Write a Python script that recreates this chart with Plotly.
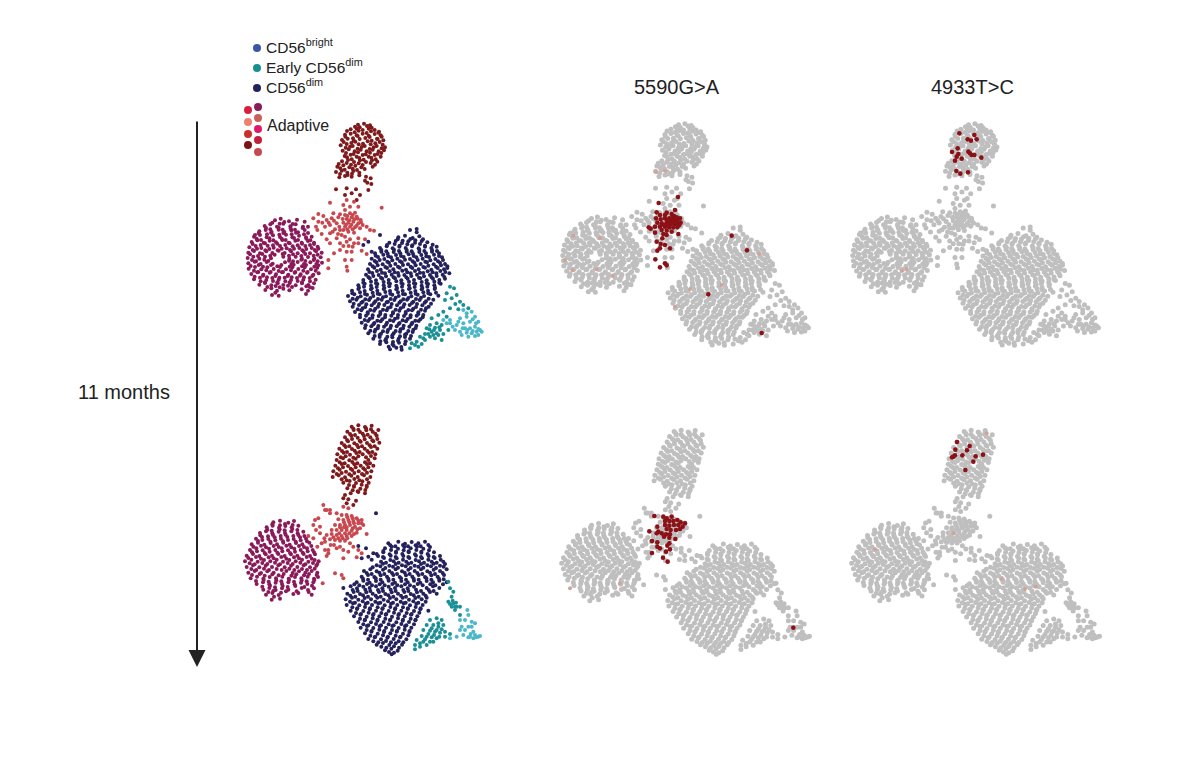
"""
NK cell UMAPs at two time points, clusters plus two mtDNA variants.
The dot positions are read by eye off the picture, in crop units, and are a
thinner sample than the real figure, which has a couple of thousand cells.
"""

import plotly.graph_objects as go

# first time point, cluster dots
adaptive_dark_1 = [(384,284),(402,281),(420,286),(362,298),(380,296),(398,300),(416,296),(434,300),(447,305),(345,314),(362,311),(380,316),(398,311),(416,317),(434,312),(452,316),(336,330),(353,326),(371,332),(389,327),(425,332),(443,327),(460,331),(332,346),(350,342),(368,348),(386,343),(404,348),(422,343),(440,348),(458,344),(465,352),(338,362),(356,358),(374,364),(392,359),(410,364),(428,359),(446,364),(462,361),(344,378),(362,374),(380,380),(398,375),(416,380),(434,375),(452,380),(336,394),(354,390),(372,396),(390,391),(408,396),(426,391),(442,395),(322,410),(340,406),(358,412),(376,407),(394,412),(428,410),(318,426),(335,422),(352,428),(370,423),(388,428),(408,440),(422,445),(328,442),(345,438),(365,440),(412,458),(424,462),(405,452),(318,478),(350,475),(378,478),(390,495),(365,490),(345,495),(415,480),(380,510)]
adaptive_dark_1b = [(375,290),(389,292),(411,288),(425,293),(351,303),(374,307),(386,302),(410,309),(423,304),(445,308),(346,320),(369,325),(383,318),(406,324),(419,321),(441,326),(455,320),(341,336),(364,339),(376,335),(399,341),(413,334),(436,340),(449,336),(347,353),(360,350),(383,356),(395,351),(419,357),(431,352),(455,355),(348,369),(371,372),(384,367),(407,373),(420,368),(443,372),(454,369),(351,382),(365,388),(388,384),(401,389),(424,383),(437,388),(326,402),(350,399),(363,404),(386,400),(398,405),(422,399),(435,404),(331,415),(344,419),(368,416),(381,420),(404,417),(330,432),(353,435),(366,431),(388,436)]
adaptive_pale_1 = [(350,510),(372,515),(340,525),(360,530),(300,518),(385,530),(345,540),(455,533),(265,552),(280,558),(310,550),(330,553),(250,565),(265,575),(290,570),(305,565),(325,562),(345,555),(360,550),(375,548),(350,567),(365,562),(380,560),(392,570),(340,578),(355,578),(370,575),(385,580),(398,585),(345,590),(360,590),(375,592),(390,595),(355,605),(372,608),(410,590),(420,600),(432,602),(320,580),(300,585),(285,590),(315,598),(330,600),(335,615),(345,620),(300,610),(262,600),(275,612),(290,628),(320,625),(350,635),(340,648),(360,628),(385,625),(330,660),(350,665),(368,650),(300,640),(395,662),(410,672),(345,690),(365,690),(350,710),(295,690),(295,715),(352,722),(365,665),(312,670)]
adaptive_pale_1b = [(352,558),(368,555),(383,566),(358,571),(373,568),(348,584),(364,584),(380,587),(393,577),(338,567),(368,598),(352,598),(312,572),(296,578),(328,590),(308,605),(330,640),(356,648),(340,600),(324,612),(277,578),(258,590),(372,640),(385,640),(405,628)]
adaptive_magenta_1 = [(135,571),(152,566),(177,574),(201,569),(104,588),(121,583),(141,590),(160,581),(181,589),(197,583),(219,590),(88,604),(107,600),(125,606),(146,599),(163,606),(184,601),(204,607),(224,600),(72,620),(90,615),(110,622),(129,616),(150,621),(168,614),(187,622),(207,617),(228,622),(245,620),(65,636),(82,631),(101,638),(119,632),(138,637),(157,630),(176,638),(196,632),(215,638),(234,633),(252,638),(58,652),(77,648),(94,654),(113,647),(131,653),(150,648),(170,655),(188,649),(208,654),(226,648),(245,654),(263,650),(55,668),(72,663),(90,670),(109,664),(127,669),(146,662),(164,669),(183,664),(203,670),(221,665),(240,670),(258,664),(275,668),(53,684),(70,680),(88,686),(105,680),(123,685),(160,680),(178,686),(197,680),(216,686),(234,681),(253,686),(272,682),(55,700),(74,695),(92,702),(110,696),(128,701),(165,697),(184,702),(203,696),(222,702),(241,697),(259,702),(276,698),(56,716),(75,711),(94,718),(112,712),(131,717),(150,711),(168,718),(187,712),(205,717),(224,712),(243,718),(262,713),(64,732),(82,727),(100,734),(119,728),(138,733),(156,727),(175,734),(194,728),(212,733),(231,728),(250,734),(266,730),(72,748),(90,743),(109,750),(127,744),(146,749),(164,743),(183,750),(201,744),(220,749),(239,744),(257,749),(88,764),(105,759),(124,766),(143,760),(160,765),(179,759),(197,766),(216,760),(235,765),(252,760),(106,780),(124,775),(141,782),(160,776),(178,781),(215,778),(234,782),(248,774),(126,795),(146,797),(136,788),(228,792),(224,575),(234,590),(75,615)]
adaptive_magenta_1b = [(127,578),(149,581),(163,576),(188,582),(108,594),(121,598),(146,593),(158,599),(182,595),(195,599),(218,594),(86,610),(111,613),(123,608),(148,614),(160,609),(185,613),(198,608),(222,613),(234,609),(80,626),(93,630),(118,625),(130,631),(155,626),(167,630),(192,624),(204,630),(229,626),(241,631),(68,642),(92,645),(105,640),(129,646),(142,641),(166,645),(179,640),(203,646),(216,641),(240,645),(252,642),(68,660),(81,656),(106,661),(118,657),(143,661),(155,656),(180,660),(192,656),(217,661),(229,657),(254,660),(265,656),(60,673),(84,678),(97,672),(121,677),(134,674),(158,672),(177,677),(189,673),(214,678),(226,672),(251,677),(263,674),(66,690),(78,694),(103,689),(115,693),(177,692),(189,694),(214,689),(226,693),(251,690),(263,694),(62,708),(86,705),(99,710),(123,705),(142,709),(154,705),(179,710),(191,704),(216,709),(228,705),(253,710),(265,706),(72,722),(85,726),(109,721),(122,726),(146,723),(159,726),(183,721),(196,726),(220,722),(233,726),(257,722),(74,740),(99,737),(111,742),(136,738),(148,743),(173,738),(185,742),(210,737),(222,742),(247,738),(92,754),(105,757),(129,753),(142,757),(166,754),(179,757),(203,753),(216,757),(240,754),(112,771),(137,768),(149,772),(174,767),(186,771),(229,769),(240,772)]
dim_1 = [(540,600),(560,597),(560,607),(450,615),(415,635),(400,645),(425,665),(505,622),(525,617),(548,624),(568,619),(478,638),(497,633),(516,639),(535,634),(555,638),(575,633),(592,637),(450,654),(470,649),(488,655),(508,650),(527,654),(546,649),(566,655),(585,650),(604,654),(620,650),(435,670),(454,665),(473,671),(491,666),(511,670),(530,665),(549,671),(568,666),(588,670),(606,665),(627,670),(425,686),(444,681),(463,687),(483,682),(502,686),(521,681),(540,687),(559,682),(578,686),(597,681),(616,687),(636,682),(420,702),(439,697),(458,703),(477,698),(496,702),(515,697),(534,703),(553,698),(572,702),(591,697),(611,703),(630,698),(645,702),(414,718),(433,713),(452,719),(471,714),(490,718),(509,713),(528,719),(547,714),(566,718),(585,713),(604,719),(623,714),(642,718),(652,714),(408,734),(427,729),(446,735),(465,730),(485,734),(504,729),(523,735),(542,730),(561,734),(580,729),(600,735),(619,730),(638,734),(658,730),(400,750),(419,745),(438,751),(457,746),(476,750),(495,745),(514,751),(533,746),(552,750),(571,745),(590,751),(609,746),(628,750),(645,746),(385,766),(404,761),(423,767),(442,762),(461,766),(480,761),(499,767),(518,762),(537,766),(556,761),(575,767),(594,762),(613,766),(632,761),(366,782),(385,777),(404,783),(423,778),(442,782),(461,777),(480,783),(499,778),(518,782),(537,777),(556,783),(575,778),(594,782),(614,777),(354,798),(373,793),(392,799),(411,794),(430,798),(449,793),(468,799),(487,794),(506,798),(525,793),(544,799),(563,794),(582,798),(601,793),(625,797),(360,814),(379,809),(398,815),(417,810),(436,814),(455,809),(474,815),(493,810),(512,814),(531,809),(550,815),(569,810),(588,814),(610,809),(368,830),(387,825),(406,831),(425,826),(444,830),(463,825),(482,831),(501,826),(520,830),(539,825),(558,831),(577,826),(596,830),(375,846),(394,841),(413,847),(432,842),(451,846),(470,841),(489,847),(508,842),(527,846),(546,841),(565,847),(585,842),(390,862),(408,857),(427,863),(446,858),(465,862),(484,857),(503,863),(522,858),(541,862),(560,857),(578,862),(395,878),(414,873),(433,879),(452,874),(471,878),(490,873),(509,879),(528,874),(547,878),(566,873),(405,894),(424,889),(443,895),(462,890),(481,894),(500,889),(519,895),(538,890),(557,894),(415,910),(434,905),(453,911),(472,906),(491,910),(510,905),(529,911),(548,906),(430,926),(449,921),(468,927),(487,922),(506,926),(525,921),(540,926),(450,942),(469,937),(488,943),(507,938),(525,942),(480,958),(499,953),(515,959)]
dim_1b = [(503,628),(518,632),(541,627),(556,631),(579,628),(471,645),(494,642),(509,647),(532,643),(547,646),(570,642),(585,647),(608,644),(454,660),(469,664),(492,659),(507,663),(530,660),(545,664),(568,659),(583,663),(606,660),(621,663),(437,677),(460,674),(475,679),(498,675),(513,678),(536,673),(551,678),(574,675),(589,679),(612,674),(627,678),(434,693),(449,690),(472,695),(487,691),(510,694),(525,689),(548,694),(563,690),(586,695),(601,691),(624,694),(639,690),(428,709),(443,706),(466,711),(481,707),(504,710),(519,705),(542,710),(557,706),(580,711),(595,707),(618,710),(633,706),(652,709),(418,726),(441,723),(456,728),(479,724),(494,727),(517,722),(532,727),(555,723),(570,728),(593,724),(608,727),(631,723),(646,726),(415,741),(430,738),(453,743),(468,739),(491,742),(506,737),(529,742),(544,738),(567,743),(582,739),(605,742),(620,738),(643,741),(400,758),(423,755),(438,760),(461,756),(476,759),(499,754),(514,759),(537,755),(552,760),(575,756),(590,759),(613,755),(628,758),(387,773),(402,770),(425,775),(440,771),(463,774),(478,769),(501,774),(516,770),(539,775),(554,771),(577,774),(592,770),(615,773),(367,790),(390,787),(405,792),(428,788),(443,791),(466,786),(481,791),(504,787),(519,792),(542,788),(557,791),(580,787),(595,790),(618,788),(368,806),(383,803),(406,808),(421,804),(444,807),(459,802),(482,807),(497,803),(520,808),(535,804),(558,807),(573,803),(596,806),(371,821),(394,818),(409,823),(432,819),(447,822),(470,817),(485,822),(508,818),(523,823),(546,819),(561,822),(584,818),(603,821),(383,838),(398,835),(421,840),(436,836),(459,839),(474,834),(497,839),(512,835),(535,840),(550,836),(573,839),(588,835),(390,854),(413,851),(428,856),(451,852),(466,855),(489,850),(504,855),(527,851),(542,856),(565,852),(580,855),(404,870),(419,867),(442,872),(457,868),(480,871),(495,866),(518,871),(533,867),(556,872),(571,868),(407,886),(430,883),(445,888),(468,884),(483,887),(506,882),(521,887),(544,883),(559,887),(421,902),(436,899),(459,904),(474,900),(497,903),(512,898),(535,903),(550,899),(434,918),(449,915),(472,920),(487,916),(510,919),(525,914),(543,918),(451,934),(466,931),(489,936),(504,932),(527,934),(476,950),(491,947),(514,951)]
early_dim_1 = [(660,770),(672,775),(650,790),(680,795),(665,805),(645,810),(690,815),(676,822),(700,825),(660,835),(685,838),(640,845),(715,835),(625,855),(650,860),(605,865),(620,880),(600,885),(635,885),(615,893),(590,895),(630,900),(605,905),(620,910),(640,912),(585,912),(600,920),(615,925),(635,930),(570,920),(585,930),(560,935),(575,942),(545,940),(565,950),(540,955),(655,900),(598,898),(612,900),(625,915),(610,915),(595,912),(628,892),(580,925),(555,945)]
early_light_1 = [(700,840),(725,845),(735,860),(710,860),(690,865),(745,875),(720,875),(700,880),(680,885),(660,880),(675,900),(690,905),(705,895),(720,895),(735,890),(750,900),(755,905),(740,905),(725,910),(710,908),(695,915),(735,918),(745,915),(660,870),(640,870),(715,920),(710,850),(728,868),(698,895),(712,900),(728,903),(745,897),(738,880),(668,890),(685,875),(650,880)]

# second time point, cluster dots
adaptive_dark_2 = [(365,50),(385,46),(405,51),(425,47),(352,65),(371,60),(390,66),(409,61),(428,65),(445,60),(345,82),(364,77),(383,83),(402,78),(421,82),(440,77),(335,99),(354,94),(373,100),(392,95),(411,99),(430,94),(448,98),(328,116),(347,111),(366,117),(385,112),(404,116),(423,111),(442,116),(322,133),(341,128),(360,134),(379,129),(398,133),(417,128),(436,133),(320,150),(339,145),(358,151),(377,146),(415,150),(434,145),(316,167),(335,162),(354,168),(373,163),(392,167),(411,162),(430,167),(310,184),(329,179),(348,185),(367,180),(386,184),(405,179),(424,184),(308,201),(326,196),(345,202),(364,197),(383,201),(402,196),(421,201),(340,218),(359,213),(378,219),(397,214),(416,218),(352,235),(372,230),(391,236),(410,231),(362,250),(385,246),(405,250),(345,255),(355,268),(340,265),(370,285),(350,280),(378,272)]
adaptive_dark_2b = [(370,56),(385,59),(408,55),(423,58),(360,72),(375,75),(398,71),(413,74),(436,71),(351,90),(366,87),(389,92),(404,88),(427,91),(442,87),(343,106),(358,109),(381,105),(396,109),(419,106),(434,109),(336,123),(351,126),(374,122),(389,126),(412,123),(427,126),(332,142),(347,139),(370,143),(385,139),(408,142),(423,138),(329,157),(344,160),(367,156),(382,160),(405,157),(420,160),(324,175),(339,172),(362,176),(377,172),(400,175),(415,172),(320,192),(335,189),(358,193),(373,189),(396,192),(411,188),(335,208),(350,211),(373,207),(388,211),(411,208),(357,225),(372,228),(395,224),(410,227),(368,241),(383,244),(406,240)]
adaptive_pale_2 = [(280,285),(290,300),(300,310),(285,300),(320,310),(340,290),(355,295),(335,315),(350,315),(365,318),(380,325),(395,330),(400,345),(385,340),(370,333),(355,330),(340,330),(325,328),(315,345),(330,345),(345,345),(360,345),(375,350),(390,355),(320,360),(335,360),(350,360),(365,362),(380,368),(305,372),(290,375),(320,375),(335,378),(350,378),(365,378),(410,372),(300,388),(315,390),(330,392),(345,392),(360,400),(285,395),(250,385),(235,378),(255,330),(265,325),(250,345),(258,360),(270,370),(275,400),(262,410),(285,420),(295,430),(290,438),(320,415),(340,420),(355,425),(385,420),(395,430),(380,442),(340,445),(315,490),(335,495),(340,505),(278,520)]
adaptive_pale_2b = [(342,337),(358,337),(372,340),(385,332),(350,352),(368,355),(382,358),(342,352),(330,352),(345,370),(358,370),(372,372),(328,370),(310,382),(325,385),(338,385),(352,385),(300,300),(395,340),(352,322),(368,325),(270,350),(283,385),(302,405),(295,420),(312,405),(330,410),(370,410),(305,360)]
adaptive_magenta_2 = [(130,337),(150,332),(175,338),(192,333),(110,352),(128,347),(147,353),(166,348),(185,352),(205,347),(90,369),(108,364),(127,370),(146,365),(165,369),(184,364),(203,370),(220,365),(78,386),(96,381),(115,387),(134,382),(153,386),(172,381),(191,387),(210,382),(228,386),(65,403),(84,398),(103,404),(122,399),(141,403),(160,398),(179,404),(198,399),(217,403),(238,398),(60,420),(79,415),(98,421),(117,416),(136,420),(155,415),(174,421),(193,416),(212,420),(231,415),(248,420),(50,437),(69,432),(88,438),(107,433),(126,437),(145,432),(164,438),(183,433),(202,437),(221,432),(240,438),(255,433),(45,454),(64,449),(83,455),(102,450),(121,454),(140,449),(159,455),(178,450),(197,454),(216,449),(235,455),(254,450),(266,454),(50,471),(69,466),(88,472),(107,467),(126,471),(145,466),(164,472),(183,467),(202,471),(221,466),(240,472),(259,467),(55,488),(74,483),(93,489),(112,484),(131,488),(169,483),(188,489),(207,484),(226,488),(245,483),(262,488),(62,505),(81,500),(100,506),(119,501),(138,505),(157,500),(176,506),(195,501),(214,505),(233,500),(252,506),(264,501),(80,522),(99,517),(118,523),(137,518),(156,522),(175,517),(194,523),(213,518),(232,522),(250,517),(100,539),(118,534),(137,540),(156,535),(175,539),(215,534),(234,540),(252,535),(108,554),(127,549),(146,555),(190,552),(205,549),(245,554),(125,569),(150,566)]
adaptive_magenta_2b = [(127,343),(150,346),(165,342),(188,345),(112,359),(125,362),(149,358),(164,361),(187,357),(202,360),(91,376),(114,379),(129,375),(152,378),(167,374),(190,378),(205,375),(223,378),(84,393),(97,390),(121,395),(136,391),(159,394),(174,390),(197,395),(212,391),(231,394),(70,410),(93,407),(108,412),(131,408),(146,411),(169,407),(184,412),(207,408),(222,411),(244,408),(66,427),(81,424),(104,429),(119,425),(142,428),(157,424),(180,429),(195,425),(218,428),(233,424),(252,427),(55,444),(78,441),(93,446),(116,442),(131,445),(154,441),(169,446),(192,442),(207,445),(230,441),(245,446),(59,460),(74,463),(97,459),(112,462),(135,458),(150,463),(173,459),(188,462),(211,458),(226,463),(249,459),(262,462),(64,477),(79,480),(102,476),(117,480),(140,477),(155,480),(178,476),(193,480),(216,477),(231,480),(254,476),(66,495),(89,492),(104,497),(127,493),(146,496),(161,492),(184,497),(199,493),(222,496),(237,492),(260,495),(78,513),(101,510),(116,515),(139,511),(154,514),(177,510),(192,515),(215,511),(230,514),(253,510),(97,530),(120,527),(135,532),(158,528),(173,531),(196,528),(223,531),(246,527),(115,546),(130,543),(153,548),(168,544),(200,544),(236,546),(132,560)]
dim_2 = [(438,310),(385,408),(408,415),(430,430),(415,440),(395,445),(475,400),(505,395),(525,401),(545,396),(565,400),(585,395),(465,415),(485,410),(504,416),(523,411),(542,415),(561,410),(580,416),(600,411),(440,432),(460,427),(479,433),(498,428),(517,432),(536,427),(555,433),(574,428),(593,432),(612,427),(425,449),(462,444),(481,450),(500,445),(519,449),(538,444),(557,450),(576,445),(595,449),(614,444),(632,449),(440,466),(459,461),(478,467),(497,462),(516,466),(535,461),(554,467),(573,462),(592,466),(611,461),(630,467),(645,462),(402,483),(421,478),(440,484),(459,479),(478,483),(497,478),(516,484),(535,479),(554,483),(573,478),(592,484),(611,479),(630,483),(650,478),(395,500),(414,495),(433,501),(452,496),(471,500),(490,495),(509,501),(528,496),(547,500),(566,495),(585,501),(604,496),(623,500),(642,495),(380,517),(400,512),(419,518),(438,513),(457,517),(476,512),(495,518),(514,513),(533,517),(552,512),(571,518),(590,513),(609,517),(628,512),(650,517),(340,534),(362,529),(381,535),(400,530),(419,534),(438,529),(457,535),(476,530),(495,534),(514,529),(533,535),(552,530),(590,534),(609,529),(628,534),(352,551),(371,546),(390,552),(409,547),(428,551),(447,546),(466,552),(485,547),(504,551),(523,546),(542,552),(561,547),(580,551),(600,546),(620,551),(347,568),(366,563),(385,569),(404,564),(423,568),(442,563),(461,569),(480,564),(499,568),(518,563),(537,569),(556,564),(575,568),(590,563),(350,585),(369,580),(388,586),(407,581),(426,585),(445,580),(464,586),(483,581),(502,585),(521,580),(540,586),(559,581),(578,585),(362,602),(381,597),(400,603),(419,598),(438,602),(457,597),(476,603),(495,598),(514,602),(533,597),(552,603),(571,598),(595,602),(372,619),(391,614),(410,620),(429,615),(448,619),(467,614),(486,620),(505,615),(524,619),(543,614),(562,619),(385,636),(404,631),(423,637),(442,632),(461,636),(480,631),(499,637),(518,632),(537,636),(556,631),(392,653),(411,648),(430,654),(449,649),(468,653),(487,648),(506,654),(525,649),(544,653),(405,670),(424,665),(443,671),(462,666),(481,670),(500,665),(519,671),(538,666),(415,687),(434,682),(453,688),(472,683),(491,687),(510,682),(529,688),(440,704),(459,699),(478,705),(497,700),(516,704),(465,721),(484,716),(503,722),(485,733)]
dim_2b = [(481,406),(496,409),(519,405),(534,409),(557,406),(572,409),(595,405),(460,423),(483,420),(498,425),(521,421),(536,424),(559,420),(574,425),(597,421),(444,438),(459,441),(482,437),(497,441),(520,438),(535,441),(558,437),(573,441),(596,438),(611,441),(630,438),(453,455),(468,458),(491,454),(506,458),(529,455),(544,458),(567,454),(582,458),(605,455),(620,458),(640,455),(428,472),(451,469),(466,474),(489,470),(504,473),(527,469),(542,474),(565,470),(580,473),(603,469),(618,474),(641,470),(410,489),(425,492),(448,488),(463,492),(486,489),(501,492),(524,488),(539,492),(562,489),(577,492),(600,488),(615,492),(638,489),(399,506),(414,509),(437,505),(452,509),(475,506),(490,509),(513,505),(528,509),(551,506),(566,509),(589,505),(604,509),(627,506),(641,508),(373,523),(388,526),(411,522),(426,526),(449,523),(464,526),(487,522),(502,526),(525,523),(540,526),(563,522),(578,526),(601,523),(616,526),(639,523),(368,540),(383,543),(406,539),(421,543),(444,540),(459,543),(482,539),(497,543),(520,540),(535,543),(558,539),(573,543),(596,540),(611,543),(361,557),(376,560),(399,556),(414,560),(437,557),(452,560),(475,556),(490,560),(513,557),(528,560),(551,556),(566,560),(587,557),(360,575),(375,578),(398,574),(413,578),(436,575),(451,578),(474,574),(489,578),(512,575),(527,578),(550,574),(565,578),(587,575),(367,592),(382,595),(405,591),(420,595),(443,592),(458,595),(481,591),(496,595),(519,592),(534,595),(557,591),(572,595),(378,609),(393,612),(416,608),(431,612),(454,609),(469,612),(492,608),(507,612),(530,609),(545,612),(568,608),(390,626),(405,629),(428,625),(443,629),(466,626),(481,629),(504,625),(519,629),(542,626),(557,629),(400,643),(415,646),(438,642),(453,646),(476,643),(491,646),(514,642),(529,646),(552,643),(410,660),(425,663),(448,659),(463,663),(486,660),(501,663),(524,659),(539,663),(421,677),(436,680),(459,676),(474,680),(497,677),(512,680),(535,676),(430,694),(445,697),(468,693),(483,697),(506,694),(520,697),(454,710),(469,713),(492,709),(507,713),(477,726),(492,728)]
early_dim_2 = [(655,515),(660,535),(670,545),(665,560),(655,575),(670,580),(680,590),(665,590),(675,600),(690,590),(690,615),(620,625),(600,630),(635,630),(590,645),(610,645),(625,650),(640,645),(580,660),(600,662),(615,665),(630,668),(645,665),(660,672),(575,678),(590,680),(605,682),(620,685),(560,690),(580,695),(600,695),(555,705),(570,710),(555,718),(590,705),(668,572),(660,582),(678,578),(675,590),(605,655),(620,660),(635,658),(595,672),(612,675),(628,680),(645,680),(585,688),(570,700),(610,695),(625,640)]
early_light_2 = [(712,600),(715,615),(705,630),(725,635),(735,640),(695,650),(715,650),(690,660),(730,665),(700,675),(715,682),(730,685),(745,680),(735,675),(720,680),(680,680),(660,685),(690,630),(722,672),(738,682),(705,660),(725,650),(750,678)]

# cells carrying each variant, and the faint ones
v5590_1 = [(384,261),(326,279),(375,300),(320,307),(350,308),(345,315),(330,315),(365,312),(372,318),(380,322),(390,325),(318,325),(332,328),(345,325),(358,325),(370,330),(382,333),(392,338),(322,338),(335,340),(350,338),(362,342),(375,342),(388,345),(296,352),(302,356),(315,350),(330,350),(345,350),(358,352),(370,352),(382,352),(335,360),(350,362),(365,365),(315,368),(340,372),(385,372),(350,375),(337,385),(320,395),(332,402),(345,405),(322,422),(360,415),(330,415),(316,448),(345,460),(350,466),(330,472),(545,377),(591,421),(475,553),(635,669),(368,322),(376,328),(360,333),(368,338),(355,345),(380,338),(352,332),(342,345)]
v5590_1_faint = [(345,182),(318,186),(150,385),(70,377),(140,478),(68,481),(627,432),(420,537),(375,590),(188,498),(45,450),(515,525)]
v4933_1 = [(358,70),(403,75),(383,88),(393,92),(410,88),(353,115),(336,126),(385,125),(390,130),(395,135),(403,135),(355,132),(350,140),(345,152),(365,146),(424,143),(349,183),(361,191),(384,187)]
v4933_1_faint = [(185,483),(200,477)]
v5590_2 = [(313,303),(340,305),(350,310),(365,305),(345,318),(358,318),(370,318),(382,315),(392,322),(405,325),(345,330),(358,332),(372,330),(385,330),(398,335),(350,342),(362,345),(378,345),(390,342),(322,335),(298,349),(320,355),(335,355),(348,358),(360,358),(325,350),(342,365),(358,368),(376,372),(306,378),(322,382),(358,385),(352,392),(322,395),(330,400),(360,403),(348,410),(306,414),(339,428),(353,440),(730,638)]
v5590_2_faint = [(210,505),(60,520)]
v4933_2 = [(351,81),(346,104),(389,93),(381,106),(367,121),(345,121),(340,125),(336,127),(407,124),(429,119),(400,140),(376,165)]
v4933_2_faint = [(440,55),(555,522),(587,515),(105,403),(340,355),(485,492)]

variant_names = ["5590G>A", "4933T>C"]
time_label = "11 months"
legend_labels = ["CD56<sup>bright</sup>", "Early CD56<sup>dim</sup>", "CD56<sup>dim</sup>"]
legend_colors = ["#3b55a8", "#16908f", "#23225c"]
adaptive_colors = ["#d81f3f", "#ee8070", "#c9302c", "#7a1416", "#8b1a5b", "#c8605a", "#e0186a", "#c02038", "#c8484f"]

# the page body keeps its 8 px margin, so the figure is that much smaller
PAGE_MARGIN = 8
WIDTH = 1184
HEIGHT = 759
GREY = "#bfbfbf"
RED = "#8c1015"
FAINT = "#cfa598"

fig = go.Figure()
axis_count = 1


def page_x(px):
    return (px - PAGE_MARGIN) / WIDTH


def page_y(px):
    return 1 - (px - PAGE_MARGIN) / HEIGHT


def add_axes(box, x_range, y_range):
    # box is left, right, top, bottom in pixels of the 1200x775 window
    global axis_count
    axis_count += 1
    left, right, top, bottom = box
    common = {"visible": False, "fixedrange": True}
    fig.update_layout(
        {
            f"xaxis{axis_count}": dict(
                domain=[page_x(left), page_x(right)],
                range=x_range,
                anchor=f"y{axis_count}",
                **common,
            ),
            f"yaxis{axis_count}": dict(
                domain=[page_y(bottom), page_y(top)],
                range=y_range,
                anchor=f"x{axis_count}",
                **common,
            ),
        }
    )
    return f"x{axis_count}", f"y{axis_count}"


def add_dots(points, color, size, axes):
    fig.add_trace(
        go.Scatter(
            x=[p[0] for p in points],
            y=[p[1] for p in points],
            mode="markers",
            marker={"color": color, "size": size, "line": {"width": 0}},
            xaxis=axes[0],
            yaxis=axes[1],
            showlegend=False,
            hoverinfo="skip",
        )
    )


clusters_1 = [
    (adaptive_dark_1 + adaptive_dark_1b, "#7f1a1c"),
    (adaptive_pale_1 + adaptive_pale_1b, "#c9484f"),
    (adaptive_magenta_1 + adaptive_magenta_1b, "#8b1a5b"),
    (dim_1 + dim_1b, "#23225c"),
    (early_light_1, "#4ab8c8"),
    (early_dim_1, "#1a9096"),
]
clusters_2 = [
    (adaptive_dark_2 + adaptive_dark_2b, "#7f1a1c"),
    (adaptive_pale_2 + adaptive_pale_2b, "#c9484f"),
    (adaptive_magenta_2 + adaptive_magenta_2b, "#8b1a5b"),
    (dim_2 + dim_2b, "#23225c"),
    (early_light_2, "#4ab8c8"),
    (early_dim_2, "#1a9096"),
]

# coloured panels
axes_1 = add_axes((230, 500, 30, 360), [0, 810], [990, 0])
for points, color in clusters_1:
    add_dots(points, color, 4, axes_1)
axes_2 = add_axes((230, 500, 410, 670), [0, 810], [780, 0])
for points, color in clusters_2:
    add_dots(points, color, 4, axes_2)

# grey panels, same cells a bit wider than the coloured ones
grey_1 = [p for points, _ in clusters_1 for p in points]
grey_2 = [p for points, _ in clusters_2 for p in points]
variants = [
    (grey_1, 990, (544.2, 827.7, 32, 355.4), 110, v5590_1, v5590_1_faint, 550),
    (grey_1, 990, (834.2, 1117.7, 32, 355.4), 110, v4933_1, v4933_1_faint, 840),
    (grey_2, 780, (545.9, 830.5, 415.3, 669.6), 415, v5590_2, v5590_2_faint, 550),
    (grey_2, 780, (835.9, 1120.5, 415.3, 669.6), 415, v4933_2, v4933_2_faint, 840),
]
for cells, span, box, crop_top, hits, faint, crop_left in variants:
    add_dots(cells, GREY, 5, add_axes(box, [0, 810], [span, 0]))
    hit_box = (crop_left, crop_left + 270, crop_top, crop_top + 250)
    hit_axes = add_axes(hit_box, [0, 810], [750, 0])
    add_dots(faint, FAINT, 4, hit_axes)
    add_dots(hits, RED, 4.6, hit_axes)

# legend dots, on an axis that covers the whole page
legend_axes = add_axes((8, 1192, 8, 767), [8, 1192], [767, 8])
legend_x = [257, 257, 257]
legend_y = [48, 68, 88]
adaptive_x = [248, 248, 248, 248, 258, 258, 258, 258, 258]
adaptive_y = [110, 122, 134, 145, 107, 118, 129, 140, 152]
for x, y, color in zip(legend_x + adaptive_x, legend_y + adaptive_y, legend_colors + adaptive_colors):
    add_dots([(x, y)], color, 8, legend_axes)


def add_text(text, x, y, size, anchor="left"):
    fig.add_annotation(
        text=text,
        x=page_x(x),
        y=page_y(y),
        xref="paper",
        yref="paper",
        xanchor=anchor,
        yanchor="middle",
        showarrow=False,
        font={"size": size, "color": "#222222"},
    )


# the sup pushes the label box down a little, so lift it
for label, y in zip(legend_labels, legend_y):
    add_text(label, 264, y - 2, 15.5)
add_text("Adaptive", 265, 125, 16)
add_text(variant_names[0], 677, 87, 20, "center")
add_text(variant_names[1], 972, 87, 20, "center")
add_text(time_label, 124, 392, 20, "center")

# time arrow, 547 px long
fig.add_annotation(
    x=page_x(197),
    y=page_y(667),
    ax=0,
    ay=-547,
    xref="paper",
    yref="paper",
    text="",
    showarrow=True,
    arrowhead=2,
    arrowsize=1.7,
    arrowwidth=2,
    arrowcolor="#222222",
)

fig.update_layout(
    width=WIDTH,
    height=HEIGHT,
    margin={"l": 0, "r": 0, "t": 0, "b": 0},
    paper_bgcolor="white",
    plot_bgcolor="rgba(0,0,0,0)",
    font={"family": "Liberation Sans, Arial, sans-serif"},
    showlegend=False,
)

fig.write_html("out.html")
